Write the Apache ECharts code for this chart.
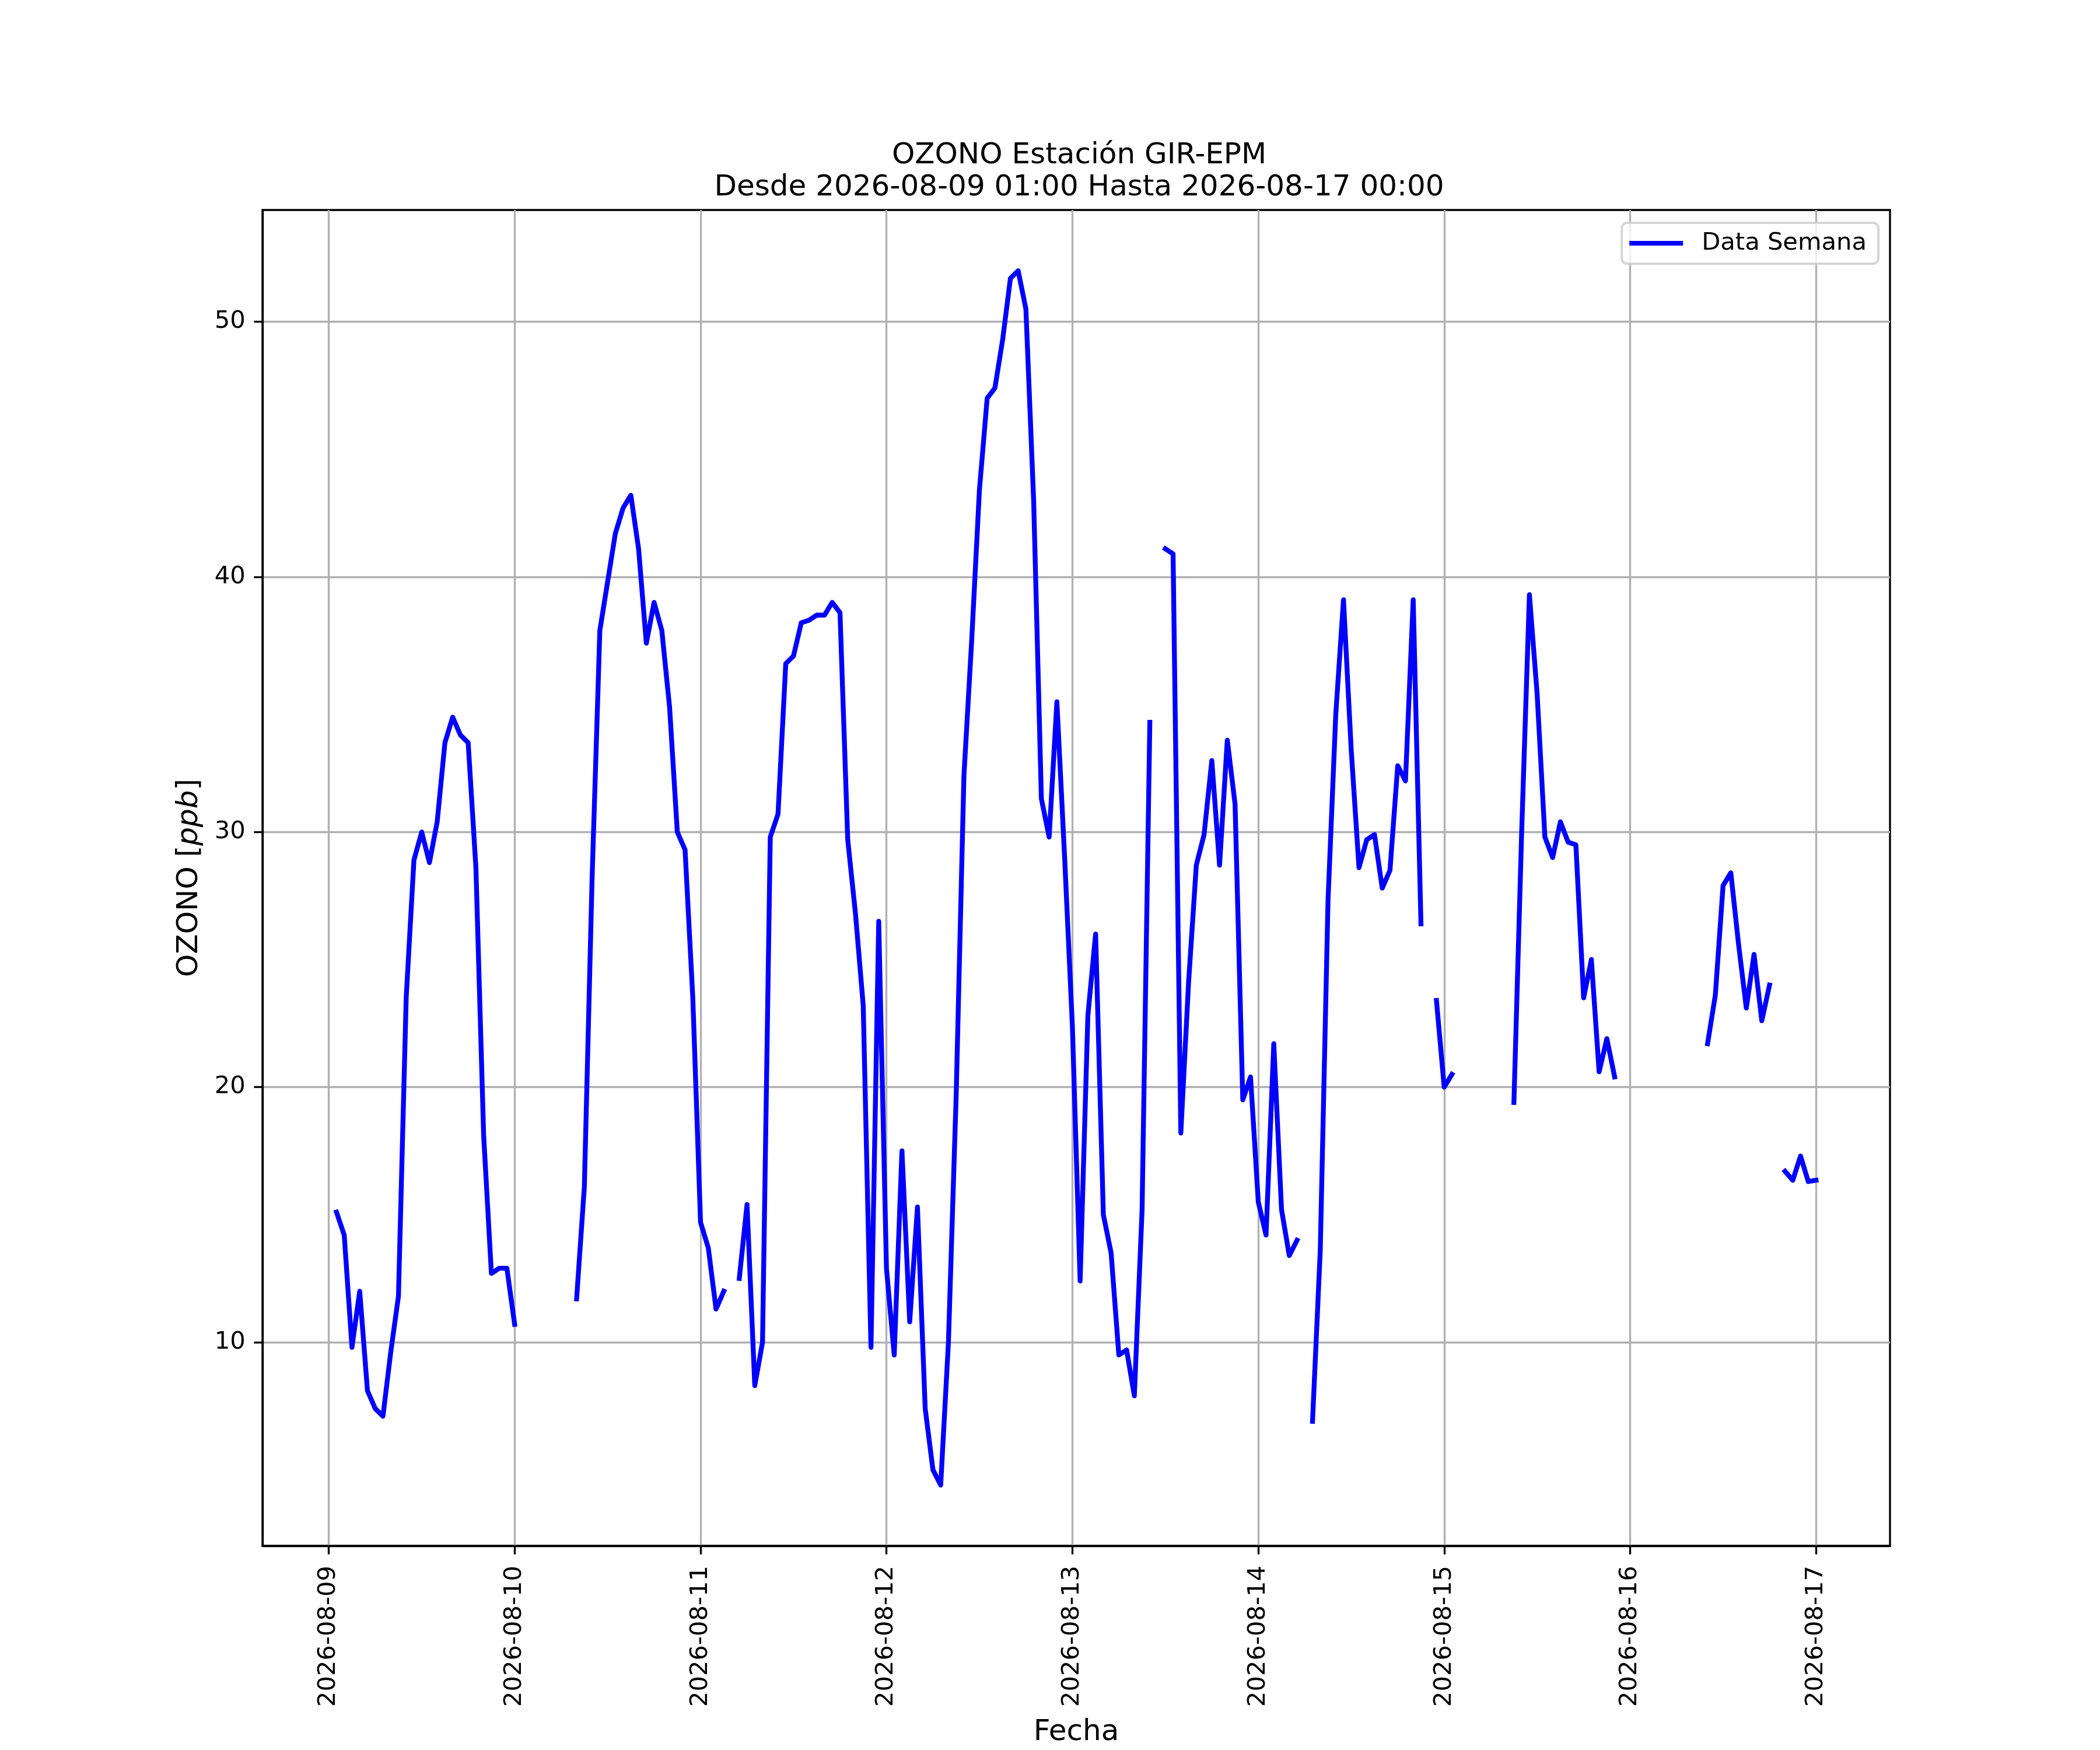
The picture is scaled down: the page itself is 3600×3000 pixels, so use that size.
<!DOCTYPE html>
<html>
<head>
<meta charset="utf-8">
<title>OZONO Estación GIR-EPM</title>
<script src="https://cdn.jsdelivr.net/npm/echarts@6/dist/echarts.min.js"></script>
<style>
    html, body { margin: 0; padding: 0; background: #fff; }
    #chart { width: 3600px; height: 3000px; }
</style>
</head>
<body>
<div id="chart"></div>
<script>
// datos horarios, desde 2026-08-09 01:00 (cada fila = 24 horas)
var dia1 = [15.1, 14.2, 9.8, 12.0, 8.1, 7.4, 7.1, 9.6, 11.8, 23.5, 28.9, 30.0, 28.8, 30.4, 33.5, 34.5, 33.8, 33.5, 28.6, 18.1, 12.7, 12.9, 12.9, 10.7];
var dia2 = [null, null, null, null, null, null, null, 11.7, 16.1, 28.2, 37.9, 39.8, 41.7, 42.7, 43.2, 41.1, 37.4, 39.0, 37.9, 34.9, 30.0, 29.3, 23.5, 14.7];
var dia3 = [13.7, 11.3, 12.0, null, 12.5, 15.4, 8.3, 10.0, 29.8, 30.7, 36.6, 36.9, 38.2, 38.3, 38.5, 38.5, 39.0, 38.6, 29.7, 26.8, 23.2, 9.8, 26.5, 12.9];
var dia4 = [9.5, 17.5, 10.8, 15.3, 7.4, 5.0, 4.4, 10.0, 19.7, 32.2, 37.5, 43.4, 47.0, 47.4, 49.3, 51.7, 52.0, 50.5, 43.0, 31.3, 29.8, 35.1, 29.0, 22.4];
var dia5 = [12.4, 22.8, 26.0, 15.0, 13.5, 9.5, 9.7, 7.9, 15.2, 34.3, null, 41.1, 40.9, 18.2, 24.1, 28.7, 29.9, 32.8, 28.7, 33.6, 31.1, 19.5, 20.4, 15.5];
var dia6 = [14.2, 21.7, 15.2, 13.4, 14.0, null, 6.9, 13.6, 27.3, 34.6, 39.1, 33.2, 28.6, 29.7, 29.9, 27.8, 28.5, 32.6, 32.0, 39.1, 26.4, null, 23.4, 20.0];
var dia7 = [20.5, null, null, null, null, null, null, null, 19.4, 30.0, 39.3, 35.4, 29.8, 29.0, 30.4, 29.6, 29.5, 23.5, 25.0, 20.6, 21.9, 20.4, null, null];
var dia8 = [null, null, null, null, null, null, null, null, null, 21.7, 23.6, 27.9, 28.4, 25.6, 23.1, 25.2, 22.6, 24.0, null, 16.7, 16.35, 17.3, 16.3, 16.35];

// etiquetas del eje x (una por día, a las 00:00)
var fechas = ['2026-08-09', '2026-08-10', '2026-08-11', '2026-08-12', '2026-08-13',
              '2026-08-14', '2026-08-15', '2026-08-16', '2026-08-17'];
var ticksY = [10, 20, 30, 40, 50];

var PT = 300 / 72; // puntos a pixeles (300 dpi)

var valores = [].concat(dia1, dia2, dia3, dia4, dia5, dia6, dia7, dia8);

// x = horas desde 2026-08-09 00:00
var puntos = valores.map(function(v, i){
    return [i + 1, v];
});

var ticksX = fechas.map(function(f, i){ return i * 24; });

// margenes de 5% como matplotlib
function extension(lo, hi){
    var m = (hi - lo) * 0.05;
    return [lo - m, hi + m];
}
var buenos = valores.filter(function(v){ return v != null; });
var rangoY = extension(Math.min.apply(null, buenos), Math.max.apply(null, buenos));
var rangoX = extension(1, valores.length);

var fuente = 'DejaVu Sans';
var gris = '#b0b0b0';

var option = {
    animation: false,
    backgroundColor: '#fff',
    title: {
        text: 'OZONO Estación GIR-EPM\nDesde 2026-08-09 01:00 Hasta 2026-08-17 00:00',
        left: 1845,
        textAlign: 'center',
        top: 235,
        textStyle: {
            fontFamily: fuente,
            fontSize: 12 * PT,
            fontWeight: 'normal',
            color: '#000',
            lineHeight: 55
        }
    },
    legend: {
        data: ['Data Semana'],
        right: 380,
        top: 382,
        icon: 'rect',
        itemWidth: 92,
        itemHeight: 8,
        padding: [14, 20, 14, 13],
        backgroundColor: 'rgba(255,255,255,0.8)',
        borderColor: 'rgba(204,204,204,0.8)',
        borderWidth: 4,
        borderRadius: 9,
        textStyle: {
            fontFamily: fuente,
            fontSize: 10 * PT,
            color: '#000',
            padding: [0, 0, 0, 27]
        }
    },
    grid: {
        left: 450,
        right: 360,
        top: 360,
        bottom: 330,
        show: true,
        borderColor: '#000',
        borderWidth: 0.8 * PT,
        backgroundColor: 'transparent'
    },
    xAxis: {
        type: 'value',
        min: rangoX[0],
        max: rangoX[1],
        name: 'Fecha',
        nameLocation: 'middle',
        nameGap: 295,
        nameTextStyle: { fontFamily: fuente, fontSize: 12 * PT, color: '#000' },
        axisLine: { onZero: false, lineStyle: { color: '#000', width: 0.8 * PT } },
        axisTick: {
            customValues: ticksX,
            length: 3.5 * PT,
            lineStyle: { color: '#000', width: 0.8 * PT }
        },
        axisLabel: {
            customValues: ticksX,
            rotate: 90,
            margin: 34,
            fontFamily: fuente,
            fontSize: 10 * PT,
            color: '#000',
            formatter: function(v){
                return fechas[Math.round(v / 24)];
            }
        },
        splitLine: { show: true, lineStyle: { color: gris, width: 0.8 * PT } }
    },
    yAxis: {
        type: 'value',
        min: rangoY[0],
        max: rangoY[1],
        name: 'OZONO [{i|ppb}]',
        nameLocation: 'middle',
        nameGap: 100,
        nameTextStyle: {
            fontFamily: fuente,
            fontSize: 12 * PT,
            color: '#000',
            rich: {
                i: { fontFamily: fuente, fontStyle: 'italic', fontSize: 12 * PT, color: '#000' }
            }
        },
        axisLine: { show: true, onZero: false, lineStyle: { color: '#000', width: 0.8 * PT } },
        axisTick: {
            show: true,
            customValues: ticksY,
            length: 3.5 * PT,
            lineStyle: { color: '#000', width: 0.8 * PT }
        },
        axisLabel: {
            customValues: ticksY,
            margin: 7 * PT,
            fontFamily: fuente,
            fontSize: 10 * PT,
            color: '#000'
        },
        splitLine: { show: true, lineStyle: { color: gris, width: 0.8 * PT } }
    },
    series: [
        {
            name: 'Data Semana',
            type: 'line',
            data: puntos,
            showSymbol: false,
            connectNulls: false,
            color: '#0000ff',
            lineStyle: {
                color: '#0000ff',
                width: 2 * PT,
                cap: 'square',
                join: 'round'
            },
            z: 3
        }
    ]
};

var chart = echarts.init(document.getElementById('chart'));
chart.setOption(option);
</script>
</body>
</html>
